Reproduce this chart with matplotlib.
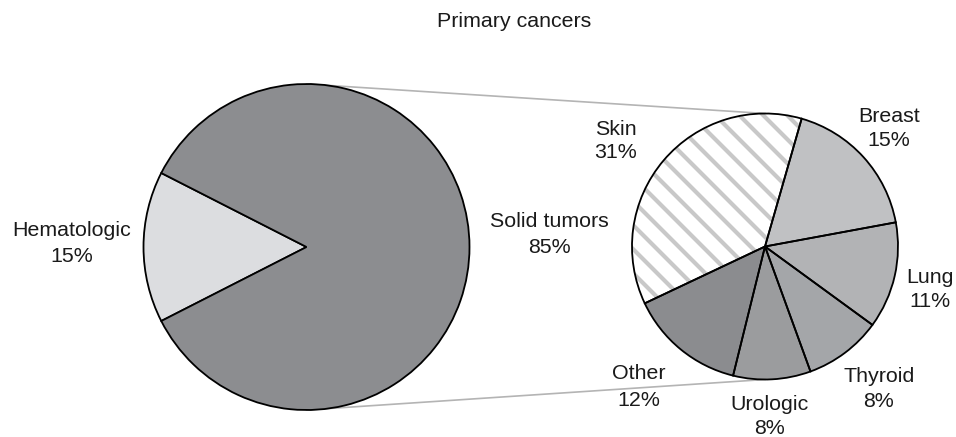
import matplotlib
matplotlib.use("Agg")
import matplotlib.pyplot as plt

# ---------------- data ----------------
title = "Primary cancers"
main_labels = ["Hematologic", "Solid tumors"]
main_values = [15, 85]
sub_labels = ["Breast", "Lung", "Thyroid", "Urologic", "Other", "Skin"]
sub_values = [15, 11, 8, 8, 12, 31]

# ---------------- style ----------------
DPI = 72
K = 100 / DPI  # point-size scale so that sizes match a 100-dpi layout
plt.rcParams['font.family'] = ['Liberation Sans', 'DejaVu Sans']
plt.rcParams['hatch.linewidth'] = 3.0 * K
FS = 15.4 * K
LW = 1.3 * K
TXT = '#1a1a1a'
W, H = 956, 437

main_colors = ['#dcdde0', '#8c8d90']
sub_colors = ['#c0c1c3', '#b2b3b5', '#a4a6a9', '#9b9c9e', '#8b8c8f', '#ffffff']

fig = plt.figure(figsize=(W / DPI, H / DPI), dpi=DPI)
ax = fig.add_axes([0, 0, 1, 1])

def Y(y):
    return H - y

# big pie
c1 = (306.5, Y(247))
r1 = 163
ax.pie(main_values, colors=main_colors, startangle=180 - main_values[0] / sum(main_values) * 180,
       center=c1, radius=r1, counterclock=True,
       wedgeprops=dict(edgecolor='black', linewidth=LW))

# small pie (fills)
c2 = (765, Y(246.5))
r2 = 133
start2 = 74
wedges, _ = ax.pie(sub_values, colors=sub_colors, startangle=start2, counterclock=False,
                   center=c2, radius=r2, wedgeprops=dict(linewidth=0))
skin = wedges[sub_labels.index("Skin")]
skin.set_edgecolor('#c8c8c8')
skin.set_hatch('\\')
# small pie outlines
ax.pie(sub_values, colors=['none'] * len(sub_values), startangle=start2, counterclock=False,
       center=c2, radius=r2, wedgeprops=dict(edgecolor='black', linewidth=LW, facecolor='none'))

# connector lines
ax.plot([c1[0], c2[0]], [c1[1] + r1, c2[1] + r2], color='#b4b4b4', lw=1.2 * K, zorder=0)
ax.plot([c1[0], c2[0]], [c1[1] - r1, c2[1] - r2], color='#b4b4b4', lw=1.2 * K, zorder=0)

ax.set_xlim(0, W)
ax.set_ylim(0, H)
ax.set_aspect('equal')
ax.axis('off')

# texts
ax.text(514.5, Y(26.7), title, ha='center', va='baseline', fontsize=FS, color=TXT)

def label(x, y1, y2, name, v):
    ax.text(x, Y(y1), name, ha='center', va='baseline', fontsize=FS, color=TXT)
    ax.text(x, Y(y2), f"{v}%", ha='center', va='baseline', fontsize=FS, color=TXT)

main_pos = [(71.5, 236, 261.7), (549.7, 226.7, 253.3)]
for name, v, (x, y1, y2) in zip(main_labels, main_values, main_pos):
    label(x, y1, y2, name, v)

sub_pos = [(889, 121.7, 146), (930, 283.3, 306.7), (879, 382.5, 407),
           (770, 409.5, 434), (639, 379.3, 406), (616, 135, 158.3)]
for name, v, (x, y1, y2) in zip(sub_labels, sub_values, sub_pos):
    label(x, y1, y2, name, v)

fig.savefig("out.png", dpi=DPI)
